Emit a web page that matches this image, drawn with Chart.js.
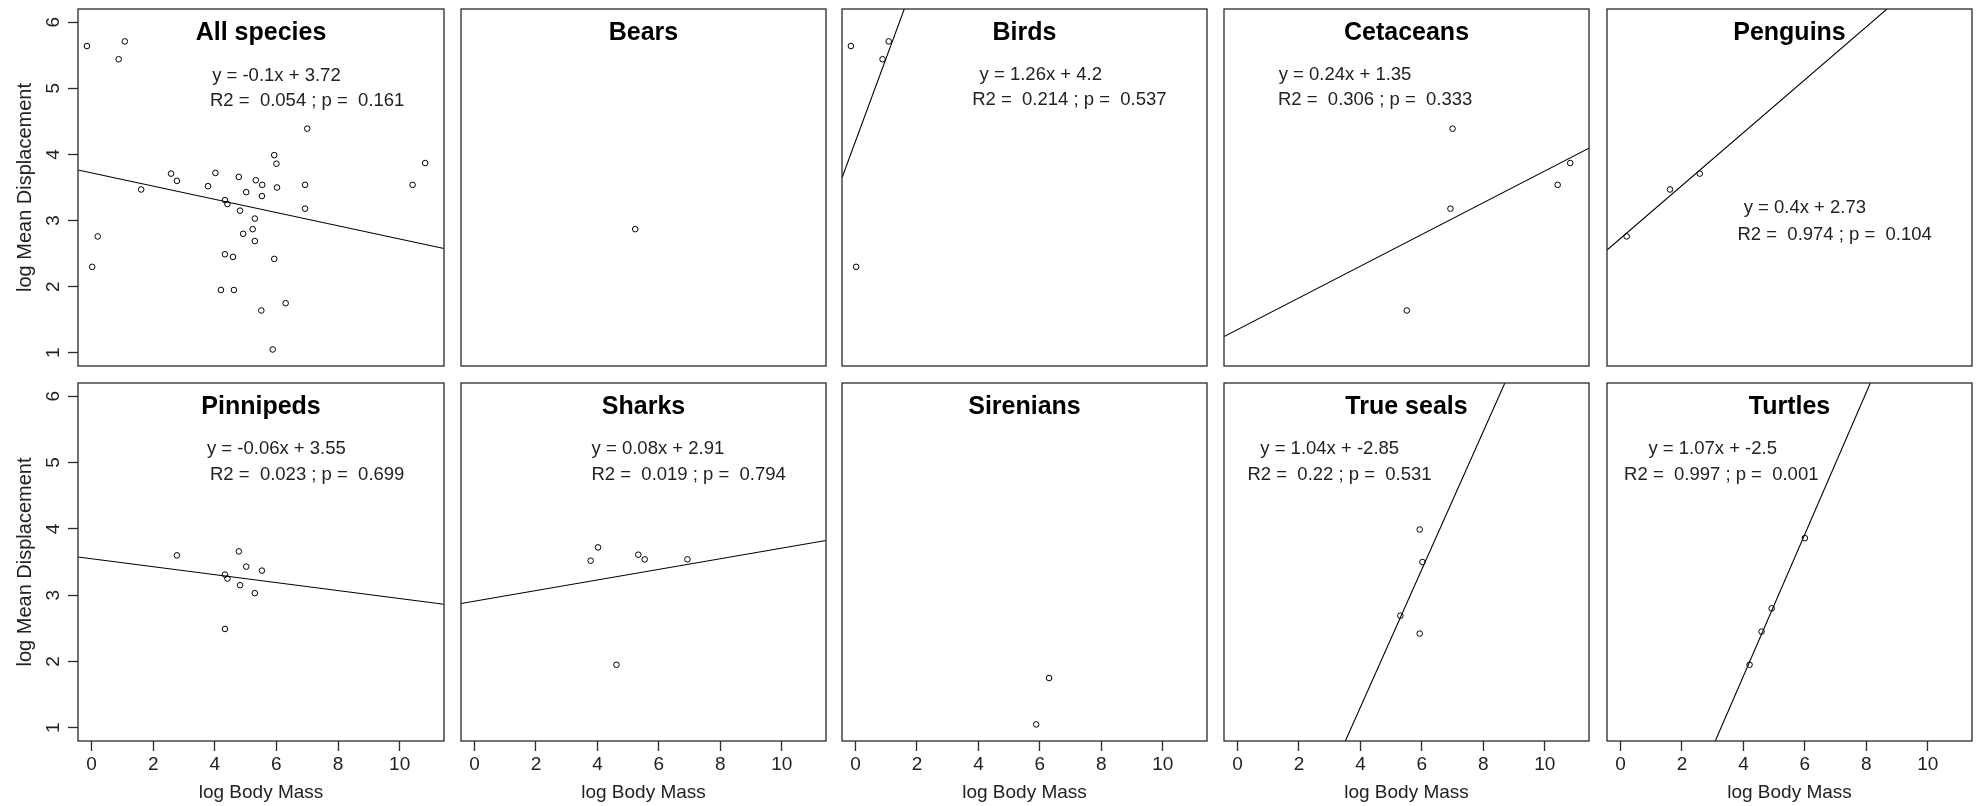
<!DOCTYPE html>
<html>
<head>
<meta charset="utf-8">
<script src="https://cdn.jsdelivr.net/npm/chart.js@4.4.1/dist/chart.umd.min.js"></script>
<style>
  html, body { margin: 0; padding: 0; background: #fff; }
  #wrap { position: relative; width: 1977px; height: 806px; overflow: hidden; background: #fff; }
  #wrap canvas { position: absolute; }
</style>
</head>
<body>
<div id="wrap"></div>
<script>
// ---------------- DATA ----------------
const panelTitles = ["All species", "Bears", "Birds", "Cetaceans", "Penguins",
                     "Pinnipeds", "Sharks", "Sirenians", "True seals", "Turtles"];

// log Body Mass (x) and log Mean Displacement (y) per group
const bearsX      = [5.23];
const bearsY      = [2.87];
const birdsX      = [-0.15, 0.88, 1.08, 0.02];
const birdsY      = [5.64, 5.44, 5.71, 2.30];
const cetaceansX  = [7.00, 10.83, 10.42, 6.93, 5.51];
const cetaceansY  = [4.39, 3.87, 3.54, 3.18, 1.64];
const penguinsX   = [0.20, 1.61, 2.58];
const penguinsY   = [2.76, 3.47, 3.71];
const pinnipedsX  = [2.77, 4.78, 5.02, 5.53, 4.33, 4.41, 4.82, 5.30, 4.33];
const pinnipedsY  = [3.60, 3.66, 3.43, 3.37, 3.31, 3.25, 3.15, 3.03, 2.49];
const sharksX     = [3.78, 4.02, 5.33, 5.54, 6.93, 4.62];
const sharksY     = [3.52, 3.72, 3.61, 3.54, 3.54, 1.95];
const sireniansX  = [6.30, 5.88];
const sireniansY  = [1.75, 1.05];
const trueSealsX  = [5.93, 6.02, 5.30, 5.93];
const trueSealsY  = [3.99, 3.50, 2.69, 2.42];
const turtlesX    = [6.00, 4.92, 4.59, 4.20];
const turtlesY    = [3.86, 2.80, 2.45, 1.95];

// fitted regression (as printed on each panel); null = no fit shown
const fitSlopes     = [-0.1, null, 1.26, 0.24, 0.4, -0.06, 0.08, null, 1.04, 1.07];
const fitIntercepts = [3.72, null, 4.2, 1.35, 2.73, 3.55, 2.91, null, -2.85, -2.5];
const fitR2         = ["0.054", null, "0.214", "0.306", "0.974", "0.023", "0.019", null, "0.22", "0.997"];
const fitP          = ["0.161", null, "0.537", "0.333", "0.104", "0.699", "0.794", null, "0.531", "0.001"];

// axis ticks
const xTickValues = [0, 2, 4, 6, 8, 10];
const yTickValues = [1, 2, 3, 4, 5, 6];
const xAxisTitle = "log Body Mass";
const yAxisTitle = "log Mean Displacement";

// ---------------- build per-panel series ----------------
const groupX = [null, bearsX, birdsX, cetaceansX, penguinsX, pinnipedsX, sharksX, sireniansX, trueSealsX, turtlesX];
const groupY = [null, bearsY, birdsY, cetaceansY, penguinsY, pinnipedsY, sharksY, sireniansY, trueSealsY, turtlesY];
// "All species" panel = every group together
groupX[0] = [].concat(bearsX, birdsX, cetaceansX, penguinsX, pinnipedsX, sharksX, sireniansX, trueSealsX, turtlesX);
groupY[0] = [].concat(bearsY, birdsY, cetaceansY, penguinsY, pinnipedsY, sharksY, sireniansY, trueSealsY, turtlesY);

// ---------------- layout / style ----------------
const X_MIN = -0.44, X_MAX = 11.44, Y_MIN = 0.8, Y_MAX = 6.2;
const colLefts = [78, 460, 841, 1223, 1606];
const rowTops = [8, 382];
const BOX_W = 367, BOX_H = 359;
const FONT = "'Liberation Sans', Arial, Helvetica, sans-serif";
// annotation centres, in data units: [[x1, y1], [x2, y2]]
const annotPos = [
  [[6, 5.19], [7, 4.81]],
  null,
  [[6.03, 5.2], [6.96, 4.82]],
  [[3.5, 5.2], [4.48, 4.82]],
  [[6, 3.19], [6.97, 2.79]],
  [[6, 5.2], [7, 4.82]],
  [[5.97, 5.2], [6.97, 4.82]],
  null,
  [[3.0, 5.2], [3.32, 4.82]],
  [[3.0, 5.2], [3.28, 4.82]]
];

Chart.defaults.font.family = FONT;
Chart.defaults.color = '#222';

const panelPlugin = {
  id: 'panelDeco',
  afterDraw(chart, args, opts) {
    const { ctx, chartArea: a } = chart;
    const xs = chart.scales.x, ys = chart.scales.y;
    ctx.save();
    // frame (box)
    ctx.strokeStyle = '#2a2a2a';
    ctx.lineWidth = 1.3;
    ctx.strokeRect(a.left, a.top, a.right - a.left, a.bottom - a.top);
    // panel title
    ctx.fillStyle = '#000';
    ctx.font = 'bold 25px ' + FONT;
    ctx.textAlign = 'center';
    ctx.textBaseline = 'alphabetic';
    ctx.fillText(opts.title, (a.left + a.right) / 2, a.top + 31);
    // regression annotation
    if (opts.lines) {
      ctx.font = '18.5px ' + FONT;
      ctx.fillStyle = '#222';
      ctx.textBaseline = 'middle';
      opts.lines.forEach((ln) => {
        ctx.fillText(ln.text, xs.getPixelForValue(ln.x), ys.getPixelForValue(ln.y));
      });
    }
    ctx.restore();
  }
};

function zeroPad(s) {
  s.paddingTop = 0; s.paddingBottom = 0; s.paddingLeft = 0; s.paddingRight = 0;
}

const wrap = document.getElementById('wrap');

for (let i = 0; i < 10; i++) {
  const col = i % 5, row = Math.floor(i / 5);
  const firstCol = col === 0, bottomRow = row === 1;
  const padL = firstCol ? 78 : 4;
  const padB = bottomRow ? 65 : 4;
  const cw = padL + BOX_W + 4, ch = 4 + BOX_H + padB;
  const canvas = document.createElement('canvas');
  canvas.width = cw; canvas.height = ch;
  canvas.style.left = (colLefts[col] - padL) + 'px';
  canvas.style.top = (rowTops[row] - 4) + 'px';
  canvas.style.width = cw + 'px'; canvas.style.height = ch + 'px';
  wrap.appendChild(canvas);

  const pts = groupX[i].map((x, k) => ({ x: x, y: groupY[i][k] }));
  const datasets = [{
    type: 'scatter',
    data: pts,
    pointStyle: 'circle',
    pointRadius: 2.8,
    pointBorderWidth: 1,
    pointBorderColor: '#000',
    pointBackgroundColor: 'rgba(0,0,0,0)',
    showLine: false
  }];
  let lines = null;
  if (fitSlopes[i] !== null) {
    const a = fitSlopes[i], b = fitIntercepts[i];
    datasets.push({
      type: 'line',
      data: [{ x: X_MIN, y: a * X_MIN + b }, { x: X_MAX, y: a * X_MAX + b }],
      borderColor: '#000',
      borderWidth: 1.1,
      pointRadius: 0,
      fill: false,
      tension: 0,
      clip: 0
    });
    lines = [
      { text: 'y = ' + a + 'x + ' + b, x: annotPos[i][0][0], y: annotPos[i][0][1] },
      { text: 'R2 =  ' + fitR2[i] + ' ; p =  ' + fitP[i], x: annotPos[i][1][0], y: annotPos[i][1][1] }
    ];
  }

  const gridCommon = {
    drawOnChartArea: false,
    drawTicks: true,
    tickLength: 10,
    tickColor: '#2a2a2a',
    tickWidth: 1.3
  };

  new Chart(canvas, {
    type: 'scatter',
    data: { datasets: datasets },
    options: {
      responsive: false,
      animation: false,
      events: [],
      layout: { padding: { left: firstCol ? 0 : 4, right: 4, top: 4, bottom: bottomRow ? 0 : 4 } },
      plugins: {
        legend: { display: false },
        tooltip: { enabled: false },
        panelDeco: { title: panelTitles[i], lines: lines }
      },
      scales: {
        x: {
          type: 'linear',
          min: X_MIN, max: X_MAX,
          display: bottomRow,
          afterBuildTicks: (s) => { s.ticks = xTickValues.map(v => ({ value: v })); },
          ticks: { font: { size: 19 }, color: '#222', padding: 2, maxRotation: 0, autoSkip: false },
          grid: gridCommon,
          border: { display: false },
          title: { display: true, text: xAxisTitle, font: { size: 19 }, color: '#222', padding: { top: 0, bottom: 2 } },
          afterFit: (s) => { if (bottomRow) s.height = 65; zeroPad(s); }
        },
        y: {
          type: 'linear',
          min: Y_MIN, max: Y_MAX,
          display: firstCol,
          afterBuildTicks: (s) => { s.ticks = yTickValues.map(v => ({ value: v })); },
          ticks: { font: { size: 19 }, color: '#222', padding: 9, minRotation: 90, maxRotation: 90, crossAlign: 'center', autoSkip: false },
          grid: gridCommon,
          border: { display: false },
          title: { display: true, text: yAxisTitle, font: { size: 20 }, color: '#222', padding: { top: 13, bottom: 0 } },
          afterFit: (s) => { if (firstCol) s.width = 78; zeroPad(s); }
        }
      }
    },
    plugins: [panelPlugin]
  });
}
</script>
</body>
</html>
